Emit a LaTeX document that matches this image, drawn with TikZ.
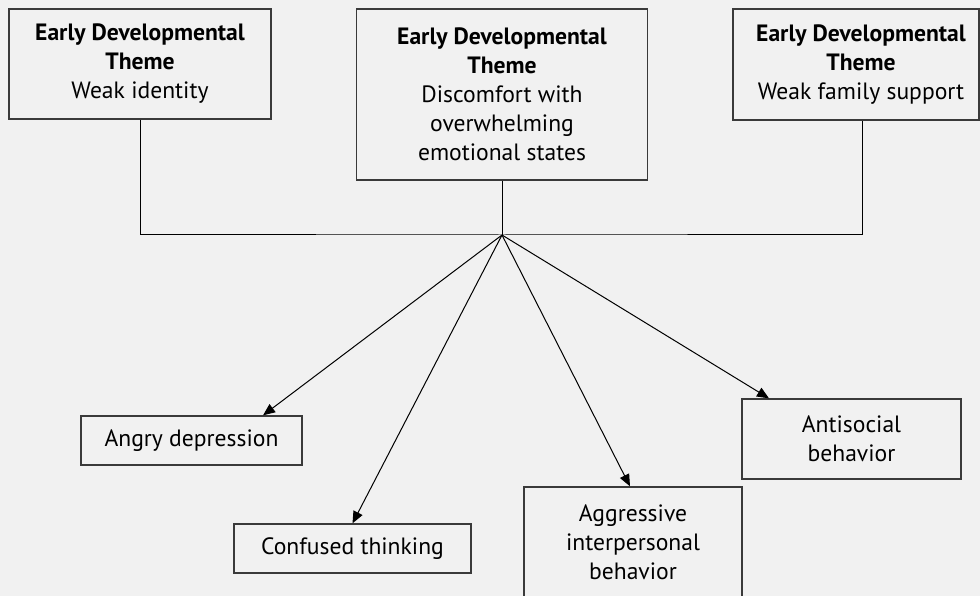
\documentclass[tikz,border=0pt]{standalone}
\usepackage{fontspec}
\setmainfont{PT Sans}
\usetikzlibrary{arrows.meta}
\definecolor{bg}{HTML}{F1F1F1}
\definecolor{frame}{HTML}{3A3A3A}
\begin{document}
\begin{tikzpicture}[x=1pt,y=-1pt,
  box/.style={draw=frame, line width=1.3pt, fill=bg, align=center, inner sep=0pt,
    font=\fontsize{23.6}{29}\selectfont},
  link/.style={draw=black, line width=1pt},
  arr/.style={link, -{Triangle[length=12pt,width=10pt]}}]
  \fill[bg] (0,0) rectangle (980,596);
  \useasboundingbox (0,0) rectangle (980,596);
  \clip (0,0) rectangle (980,596);

  % developmental themes
  \node[box, minimum width=262, minimum height=110] (t1) at (140,64)
    {\textbf{Early Developmental}\\\textbf{Theme}\\Weak identity};
  \node[box, minimum width=291, minimum height=171] (t2) at (502,94.5)
    {\textbf{Early Developmental}\\\textbf{Theme}\\Discomfort with\\overwhelming\\emotional states};
  \node[box, minimum width=246, minimum height=111] (t3) at (856,64.5)
    {\hspace*{10pt}\textbf{Early Developmental}\\\hspace*{10pt}\textbf{Theme}\\\hspace*{10pt}Weak family support};

  \coordinate (hub) at (502,235);

  % outcomes
  \node[box, minimum width=221, minimum height=49] (ad) at (191.5,440.5) {Angry depression};
  \node[box, minimum width=237, minimum height=49] (ct) at (352.5,548.5) {Confused thinking};
  \node[box, minimum width=218, minimum height=110] (ag) at (633,542)
    {Aggressive\\interpersonal\\behavior};
  \node[box, minimum width=219, minimum height=80] (as) at (851.5,439) {Antisocial\\behavior};

  % joining lines
  \draw[link] (t1.south) |- (hub) -| ([xshift=6pt]t3.south);
  \draw[link] (t2.south) -- (hub);

  % arrows
  \draw[arr] (hub) -- ([xshift=71.5pt]ad.north);
  \draw[arr] (hub) -- (ct.north);
  \draw[arr] (hub) -- ([xshift=-3pt]ag.north);
  \draw[arr] (hub) -- ([xshift=-82.5pt]as.north);
\end{tikzpicture}
\end{document}
